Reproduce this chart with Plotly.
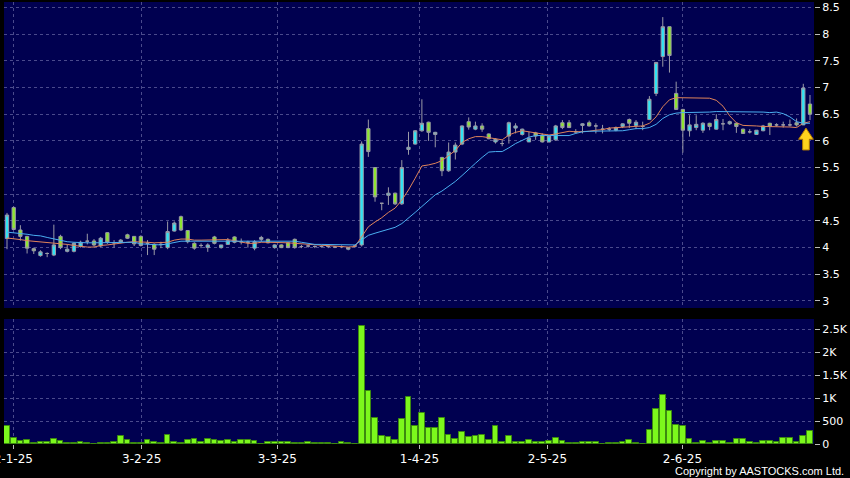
import plotly.graph_objects as go

# ---------------- data ----------------
opens = [4.17, 4.75, 4.33, 4.21, 3.98, 3.85, 3.89, 3.86, 4.21, 3.93,
         3.93, 4.02, 4.12, 4.125, 4.03, 4.28, 4.09, 4.10, 4.24, 4.21,
         4.21, 4.08, 4.06, 4.06, 4.00, 4.31, 4.58, 4.32, 4.08, 4.04,
         4.00, 4.20, 4.00, 4.06, 4.20, 4.11, 4.10, 3.99, 4.155, 4.155,
         4.00, 4.05, 4.09, 4.155, 4.02, 4.03, 4.02, 4.02, 4.02, 4.01,
         4.02, 3.97, 4.03, 4.05, 6.23, 5.50, 4.83, 4.98, 5.02, 4.82,
         5.84, 5.94, 6.19, 6.35, 6.12, 5.69, 5.44, 5.79, 5.94, 6.36,
         6.22, 6.28, 6.13, 5.98, 5.95, 6.09, 6.24, 6.12, 5.98, 6.15,
         6.11, 5.98, 6.02, 6.34, 6.34, 6.17, 6.29, 6.34, 6.28, 6.22,
         6.22, 6.20, 6.27, 6.40, 6.29, 6.27, 6.40, 6.89, 7.58, 8.14,
         6.89, 6.59, 6.19, 6.25, 6.20, 6.33, 6.22, 6.32, 6.32, 6.33,
         6.22, 6.17, 6.12, 6.19, 6.33, 6.30, 6.30, 6.30, 6.34, 6.30,
         6.69]
highs = [4.65, 4.77, 4.42, 4.22, 4.00, 3.95, 3.91, 4.43, 4.24, 4.06,
         4.10, 4.13, 4.26, 4.16, 4.20, 4.29, 4.14, 4.16, 4.26, 4.21,
         4.23, 4.14, 4.08, 4.11, 4.49, 4.49, 4.60, 4.33, 4.10, 4.08,
         4.08, 4.22, 4.05, 4.18, 4.21, 4.17, 4.13, 4.14, 4.22, 4.17,
         4.06, 4.06, 4.10, 4.17, 4.05, 4.05, 4.04, 4.04, 4.03, 4.03,
         4.04, 4.01, 4.05, 5.99, 6.40, 5.50, 4.83, 5.13, 5.03, 5.64,
         6.17, 6.20, 6.78, 6.36, 6.17, 5.70, 5.97, 5.97, 6.29, 6.44,
         6.36, 6.33, 6.14, 6.05, 6.01, 6.36, 6.33, 6.23, 6.17, 6.17,
         6.14, 6.10, 6.30, 6.39, 6.39, 6.22, 6.33, 6.38, 6.33, 6.30,
         6.26, 6.27, 6.33, 6.42, 6.39, 6.36, 6.84, 7.47, 8.32, 8.14,
         7.11, 6.60, 6.48, 6.48, 6.35, 6.34, 6.50, 6.41, 6.38, 6.34,
         6.23, 6.22, 6.20, 6.30, 6.34, 6.33, 6.36, 6.40, 6.42, 7.07,
         6.86]
lows = [3.97, 4.33, 4.13, 3.89, 3.88, 3.83, 3.82, 3.84, 3.97, 3.91,
        3.91, 4.00, 4.06, 4.02, 4.01, 4.07, 4.00, 4.08, 4.16, 4.03,
        4.02, 3.86, 3.86, 3.99, 3.97, 4.30, 4.31, 4.08, 3.96, 3.99,
        3.92, 4.06, 3.98, 4.05, 4.08, 4.06, 4.00, 3.95, 4.11, 4.08,
        3.98, 3.99, 3.99, 3.98, 3.99, 4.00, 3.99, 4.00, 3.99, 3.99,
        3.99, 3.95, 4.00, 4.02, 5.70, 4.86, 4.70, 4.80, 4.80, 4.80,
        5.74, 5.93, 6.17, 6.00, 5.88, 5.34, 5.42, 5.65, 5.92, 6.21,
        6.20, 6.17, 6.03, 5.95, 5.90, 5.95, 6.14, 6.10, 5.98, 6.02,
        5.97, 5.97, 6.00, 6.22, 6.24, 6.14, 6.14, 6.27, 6.14, 6.14,
        6.18, 6.18, 6.24, 6.24, 6.22, 6.20, 6.39, 6.84, 7.39, 7.28,
        6.58, 5.78, 6.08, 6.20, 6.15, 6.20, 6.21, 6.20, 6.30, 6.15,
        6.13, 6.14, 6.11, 6.18, 6.11, 6.27, 6.25, 6.27, 6.27, 6.30,
        6.39]
closes = [4.61, 4.34, 4.21, 3.99, 3.94, 3.92, 3.89, 4.05, 4.00, 3.97,
          4.08, 4.10, 4.12, 4.05, 4.175, 4.10, 4.09, 4.14, 4.175, 4.07,
          4.04, 4.08, 3.97, 4.06, 4.30, 4.46, 4.33, 4.11, 3.99, 4.04,
          4.05, 4.08, 4.05, 4.13, 4.10, 4.11, 4.10, 4.11, 4.19, 4.09,
          4.05, 4.00, 4.00, 4.00, 4.02, 4.03, 4.02, 4.02, 4.02, 4.01,
          4.02, 4.00, 4.03, 5.94, 5.80, 4.95, 4.83, 5.02, 4.82, 5.50,
          5.88, 6.19, 6.33, 6.16, 6.16, 5.44, 5.79, 5.92, 6.28, 6.26,
          6.28, 6.22, 6.04, 6.03, 5.95, 6.34, 6.28, 6.22, 6.05, 6.09,
          5.98, 6.09, 6.28, 6.25, 6.25, 6.17, 6.32, 6.28, 6.28, 6.22,
          6.22, 6.25, 6.32, 6.33, 6.35, 6.27, 6.78, 7.47, 8.14, 7.60,
          6.59, 6.20, 6.30, 6.31, 6.33, 6.27, 6.40, 6.32, 6.36, 6.27,
          6.14, 6.17, 6.20, 6.28, 6.27, 6.30, 6.30, 6.30, 6.30, 6.99,
          6.50]
ma10 = [4.18, 4.17, 4.15, 4.13, 4.12, 4.10, 4.09, 4.08, 4.07, 4.06,
        4.04, 4.02, 4.01, 4.01, 4.04, 4.05, 4.07, 4.08, 4.10, 4.11,
        4.11, 4.10, 4.09, 4.09, 4.10, 4.14, 4.16, 4.16, 4.14, 4.14,
        4.14, 4.14, 4.15, 4.15, 4.13, 4.10, 4.08, 4.08, 4.10, 4.10,
        4.10, 4.09, 4.09, 4.08, 4.07, 4.06, 4.05, 4.04, 4.03, 4.02,
        4.01, 4.01, 4.02, 4.21, 4.39, 4.48, 4.56, 4.66, 4.74, 4.89,
        5.08, 5.30, 5.53, 5.55, 5.58, 5.63, 5.73, 5.82, 5.97, 6.04,
        6.08, 6.08, 6.06, 6.04, 6.02, 6.11, 6.16, 6.19, 6.17, 6.15,
        6.12, 6.11, 6.13, 6.15, 6.18, 6.17, 6.17, 6.18, 6.20, 6.21,
        6.24, 6.25, 6.26, 6.26, 6.27, 6.28, 6.33, 6.45, 6.64, 6.77,
        6.81, 6.81, 6.80, 6.80, 6.80, 6.80, 6.76, 6.65, 6.47, 6.34,
        6.29, 6.29, 6.28, 6.27, 6.27, 6.27, 6.26, 6.26, 6.25, 6.33,
        6.36]
ma20 = [4.29, 4.28, 4.27, 4.25, 4.23, 4.22, 4.19, 4.16, 4.13, 4.11,
        4.10, 4.09, 4.09, 4.09, 4.09, 4.09, 4.10, 4.10, 4.10, 4.10,
        4.07, 4.06, 4.05, 4.05, 4.07, 4.10, 4.12, 4.12, 4.12, 4.12,
        4.12, 4.12, 4.12, 4.12, 4.12, 4.12, 4.12, 4.12, 4.12, 4.12,
        4.12, 4.12, 4.12, 4.12, 4.10, 4.08, 4.06, 4.06, 4.06, 4.06,
        4.06, 4.05, 4.05, 4.14, 4.23, 4.27, 4.31, 4.35, 4.38, 4.45,
        4.55, 4.66, 4.77, 4.88, 4.99, 5.06, 5.15, 5.24, 5.35, 5.47,
        5.58, 5.69, 5.79, 5.80, 5.80, 5.87, 5.95, 6.01, 6.07, 6.10,
        6.10, 6.10, 6.09, 6.10, 6.10, 6.14, 6.17, 6.18, 6.18, 6.18,
        6.18, 6.18, 6.19, 6.21, 6.23, 6.23, 6.25, 6.31, 6.42, 6.49,
        6.52, 6.53, 6.53, 6.53, 6.54, 6.54, 6.55, 6.55, 6.55, 6.55,
        6.55, 6.55, 6.54, 6.54, 6.53, 6.54, 6.51, 6.45, 6.36, 6.33,
        6.33]
volumes = [400, 124, 73, 87, 22, 44, 44, 109, 73, 29,
           29, 44, 29, 7, 22, 22, 36, 167, 94, 29,
           29, 87, 51, 29, 196, 51, 29, 80, 109, 51,
           109, 87, 58, 94, 36, 94, 87, 58, 7, 51,
           51, 36, 36, 22, 29, 44, 29, 22, 22, 7,
           44, 22, 7, 2579, 1155, 567, 182, 145, 94, 545,
           1024, 400, 676, 349, 341, 559, 203, 109, 269, 160,
           174, 196, 94, 400, 51, 167, 36, 36, 94, 36,
           36, 65, 138, 73, 15, 15, 51, 36, 36, 7,
           15, 15, 44, 87, 15, 7, 312, 756, 1075, 727,
           414, 400, 109, 22, 65, 29, 65, 73, 22, 109,
           109, 51, 22, 73, 73, 51, 131, 131, 36, 182,
           291]
date_tick_pos = [0.94, 20.13, 40.4, 61.63, 80.76, 100.94]
date_tick_text = ["2-1-25", "3-2-25", "3-3-25", "1-4-25", "2-5-25", "2-6-25"]
price_ticks = [3, 3.5, 4, 4.5, 5, 5.5, 6, 6.5, 7, 7.5, 8, 8.5]
price_tick_text = ["3", "3.5", "4", "4.5", "5", "5.5", "6", "6.5", "7", "7.5", "8", "8.5"]
vol_ticks = [0, 500, 1000, 1500, 2000, 2500]
vol_tick_text = ["0", "500", "1K", "1.5K", "2K", "2.5K"]

idx = list(range(len(closes)))

# ---------------- styles ----------------
BG = "#000050"
GRID = "#4a4a8c"
CYAN = "#30E4F4"
GREEN = "#8EE630"
WICK = "#9a9aa6"
VOLG = "#7CF81C"
FONT = "DejaVu Sans"

fig = go.Figure()
fig.add_trace(go.Candlestick(
    x=idx, open=opens, high=highs, low=lows, close=closes,
    increasing=dict(fillcolor=CYAN, line=dict(color=WICK, width=1)),
    decreasing=dict(fillcolor=GREEN, line=dict(color=WICK, width=1)),
    whiskerwidth=0, xaxis="x", yaxis="y", showlegend=False))
fig.add_trace(go.Scatter(x=idx, y=ma10, mode="lines",
                         line=dict(color="#E0845A", width=1),
                         xaxis="x", yaxis="y", showlegend=False))
fig.add_trace(go.Scatter(x=idx, y=ma20, mode="lines",
                         line=dict(color="#4AAEF0", width=1),
                         xaxis="x", yaxis="y", showlegend=False))
fig.add_trace(go.Bar(x=idx, y=volumes, width=0.85,
                     marker=dict(color=VOLG, line=dict(color="#3C8A10", width=1)),
                     xaxis="x2", yaxis="y2", showlegend=False))

# yellow marker arrow under the latest-but-one candle
ax_i = idx[-2] + 0.4
ax_y = lows[-2] - 0.06
hw, sw, hh, sh = 1.1, 0.5, 0.21, 0.41
path = (f"M {ax_i},{ax_y} L {ax_i+hw},{ax_y-hh} L {ax_i+sw},{ax_y-hh} "
        f"L {ax_i+sw},{ax_y-sh} L {ax_i-sw},{ax_y-sh} L {ax_i-sw},{ax_y-hh} "
        f"L {ax_i-hw},{ax_y-hh} Z")
fig.add_shape(type="path", path=path, xref="x", yref="y",
              fillcolor="#FFD21E", line=dict(color="#B07800", width=1))

xr = [-0.45, 120.6]
common_x = dict(range=xr, showgrid=True, gridcolor=GRID, griddash="3px,3px",
                gridwidth=1, zeroline=False, showline=False, automargin=False,
                tickvals=date_tick_pos, ticktext=date_tick_text)
common_y = dict(side="right", ticks="outside", ticklen=5, tickcolor="#bbbbbb",
                showgrid=True, gridcolor=GRID, griddash="3px,3px",
                zeroline=False, showline=False, automargin=False,
                tickfont=dict(family=FONT, size=11, color="white"))
fig.update_layout(
    width=850, height=478,
    margin=dict(l=4, r=36, t=2, b=34, autoexpand=False),
    paper_bgcolor="black", plot_bgcolor=BG,
    font=dict(family=FONT, size=12, color="white"),
    showlegend=False,
    xaxis=dict(**common_x, anchor="y", showticklabels=False, ticks="",
               rangeslider=dict(visible=False)),
    xaxis2=dict(**common_x, anchor="y2", matches="x", ticks="outside",
                ticklen=4, tickcolor="#bbbbbb", ticklabeloverflow="allow",
                tickfont=dict(family=FONT, size=12, color="white")),
    yaxis=dict(**common_y, domain=[0.3077, 1], range=[2.868, 8.603],
               tickvals=price_ticks, ticktext=price_tick_text),
    yaxis2=dict(**common_y, domain=[0, 0.2828], range=[0, 2724],
                tickvals=vol_ticks, ticktext=vol_tick_text),
    bargap=0,
    annotations=[dict(text="Copyright by AASTOCKS.com Ltd.", xref="paper",
                      yref="paper", x=1.0395, y=-0.062, xanchor="right",
                      yanchor="middle", showarrow=False,
                      font=dict(family="Liberation Sans", size=11, color="white"))],
)

fig.write_html("out.html", config={"displayModeBar": False},
               post_script="document.body.style.margin='0';document.body.style.background='black';")
